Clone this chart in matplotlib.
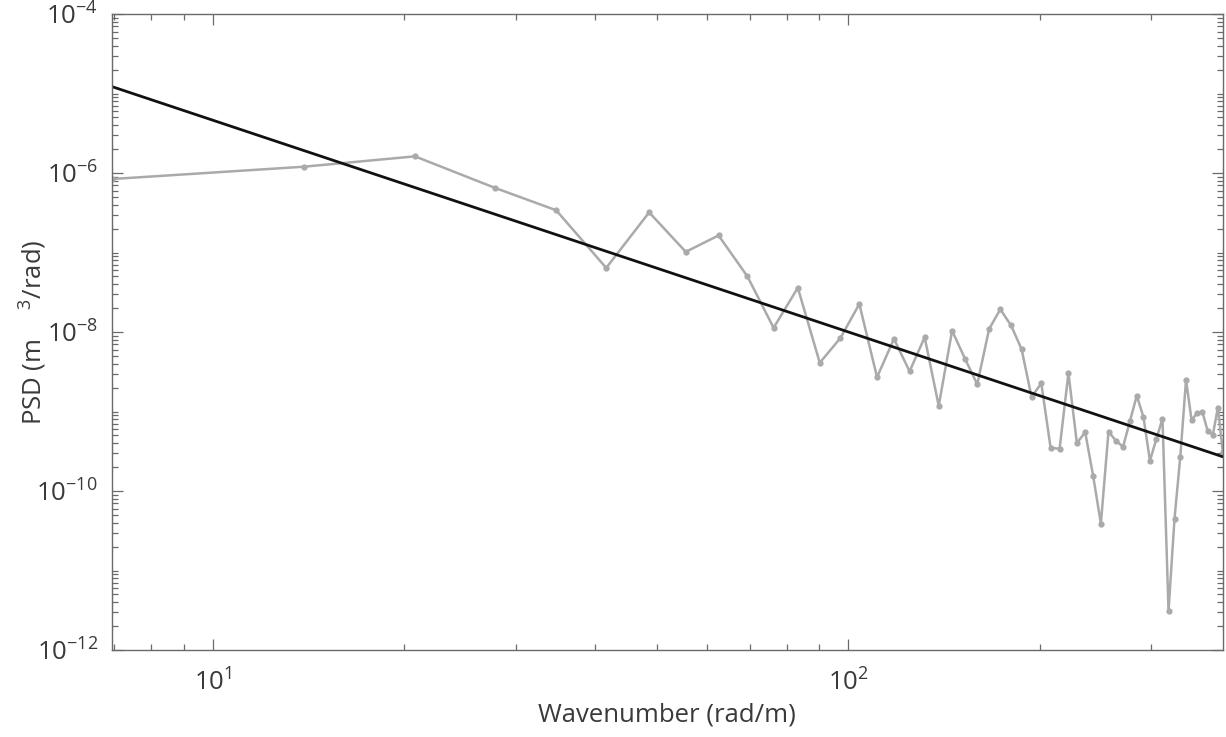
import numpy as np
import matplotlib
matplotlib.use('Agg')
import matplotlib.pyplot as plt
from matplotlib.ticker import LogLocator, LogFormatterSciNotation, NullFormatter, FixedLocator

plt.rcParams['font.family'] = ['Open Sans', 'DejaVu Sans']
plt.rcParams['mathtext.default'] = 'regular'
plt.rcParams['axes.unicode_minus'] = False

# wavenumber (rad/m) and PSD (m^3/rad)
wavenumber = [6.94, 13.9, 20.8, 27.8, 34.7, 41.6, 48.6, 55.5, 62.5, 69.4,
              76.3, 83.3, 90.2, 97.2, 104.1, 111.0, 118.0, 124.9, 131.9, 138.8,
              145.7, 152.7, 159.6, 166.6, 173.5, 180.4, 187.4, 194.3, 201.3, 208.2,
              215.1, 222.1, 229.0, 236.0, 242.9, 249.8, 256.8, 263.7, 270.7, 277.6,
              284.5, 291.5, 298.4, 305.4, 312.3, 319.2, 326.2, 333.1, 340.1, 347.0,
              353.9, 360.9, 367.8, 374.8, 381.7, 388.6]
psd = [8.4e-7, 1.20e-6, 1.62e-6, 6.5e-7, 3.4e-7, 6.4e-8, 3.2e-7, 1.02e-7, 1.64e-7, 5.0e-8,
       1.13e-8, 3.6e-8, 4.1e-9, 8.4e-9, 2.25e-8, 2.7e-9, 8.2e-9, 3.2e-9, 8.6e-9, 1.18e-9,
       1.04e-8, 4.6e-9, 2.2e-9, 1.09e-8, 1.93e-8, 1.21e-8, 6.1e-9, 1.53e-9, 2.26e-9, 3.5e-10,
       3.4e-10, 3.05e-9, 4.0e-10, 5.5e-10, 1.55e-10, 3.9e-11, 5.6e-10, 4.3e-10, 3.6e-10, 7.6e-10,
       1.58e-9, 8.5e-10, 2.4e-10, 4.5e-10, 8.1e-10, 3.1e-12, 4.5e-11, 2.7e-10, 2.5e-9, 7.8e-10,
       9.5e-10, 9.9e-10, 5.7e-10, 5.1e-10, 1.12e-9, 3.1e-10]

# power-law fit, end points
fit_k = [6.94, 388.6]
fit_psd = [1.22e-5, 2.70e-10]

fig = plt.figure(figsize=(12.26, 7.37), dpi=100)
ax = fig.add_axes([0.0914, 0.118, 0.906, 0.863])

ax.loglog(wavenumber, psd, '-', color='#aaaaaa', lw=1.8, marker='o', ms=3.5, mec='#aaaaaa', mfc='#aaaaaa')
ax.loglog(fit_k, fit_psd, '-', color='#111111', lw=2.0)

ax.set_xlim(6.94, 388.6)
ax.set_ylim(1e-12, 1e-4)

ax.yaxis.set_major_locator(FixedLocator([1e-12, 1e-10, 1e-8, 1e-6, 1e-4]))
ax.yaxis.set_minor_locator(LogLocator(base=10, subs=np.arange(1, 10), numticks=50))
ax.yaxis.set_major_formatter(LogFormatterSciNotation())
ax.yaxis.set_minor_formatter(NullFormatter())
ax.xaxis.set_major_locator(LogLocator(base=10, numticks=10))
ax.xaxis.set_minor_locator(LogLocator(base=10, subs=np.arange(2, 10), numticks=50))
ax.xaxis.set_minor_formatter(NullFormatter())

textc = '#3a3a3a'
for s in ax.spines.values():
    s.set_color('#6a6a6a')
    s.set_linewidth(1.0)
ax.tick_params(which='both', direction='in', top=True, right=True, colors='#6a6a6a',
               labelcolor=textc, labelsize=18.5, width=0.9)
ax.tick_params(which='major', length=8)
ax.tick_params(which='minor', length=4.5)
ax.tick_params(axis='x', which='major', pad=14)
ax.tick_params(axis='y', which='major', pad=10)

ax.set_xlabel('Wavenumber (rad/m)', fontsize=18.5, color=textc, labelpad=4)
ax.set_ylabel('PSD (m$^{\\quad\\ \\ 3}$/rad)', fontsize=18.5, color=textc)
ax.yaxis.set_label_coords(-0.057, 0.5)

fig.savefig('out.png', dpi=100, facecolor='white')
